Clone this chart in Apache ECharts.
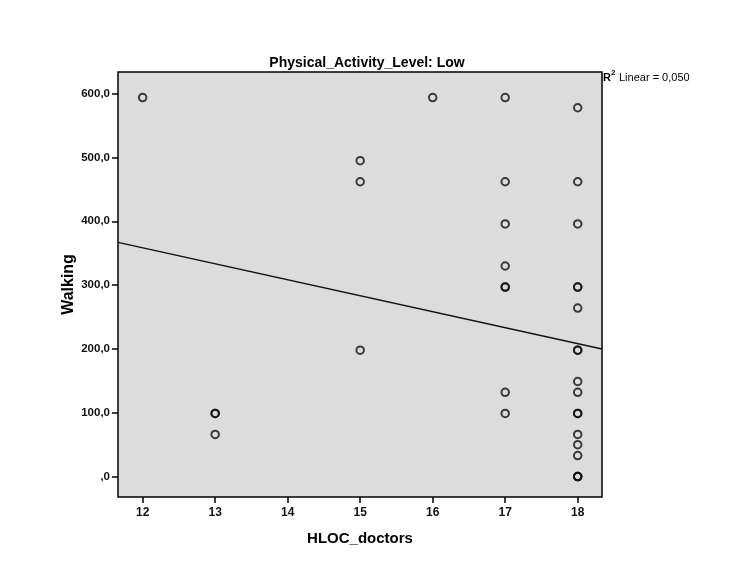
<!DOCTYPE html>
<html>
<head>
<meta charset="utf-8">
<script src="https://cdn.jsdelivr.net/npm/echarts@6/dist/echarts.min.js"></script>
<style>html,body{margin:0;padding:0;background:#fff;}#c{width:750px;height:566px;}</style>
</head>
<body>
<div id="c"></div>
<script>
// Data
var hlocDoctors = [12, 13, 13, 13, 15, 15, 15, 16,
  17, 17, 17, 17, 17, 17, 17, 17,
  18, 18, 18, 18, 18, 18, 18, 18, 18, 18, 18, 18, 18, 18, 18, 18, 18, 18];
var walking = [594, 99, 99, 66, 495, 462, 198, 594,
  594, 462, 396, 330, 297, 297, 132, 99,
  578, 462, 396, 297, 297, 264, 198, 198, 149, 132, 99, 99, 66, 50, 33, 0, 0, 0];
var fitX = [11.66, 18.335];
var fitY = [367, 200];
var xTicks = [12, 13, 14, 15, 16, 17, 18];
var yTicks = [0, 100, 200, 300, 400, 500, 600];
var titleText = 'Physical_Activity_Level: Low';
var xName = 'HLOC_doctors';
var yName = 'Walking';

var points = hlocDoctors.map(function (x, i) { return [x, walking[i]]; });
var fitLine = fitX.map(function (x, i) { return [x, fitY[i]]; });

var FONT = '"Liberation Sans", Arial, sans-serif';
var chart = echarts.init(document.getElementById('c'), null, {renderer: 'canvas'});
chart.setOption({
  backgroundColor: '#ffffff',
  animation: false,
  title: {
    text: titleText,
    left: 362, top: 51, textAlign: 'center',
    textStyle: {fontFamily: FONT, fontSize: 14, fontWeight: 'bold', color: '#000'}
  },
  grid: {
    left: 118, right: 148, top: 72, bottom: 69,
    show: true, backgroundColor: '#dcdcdc', borderColor: '#000', borderWidth: 1.5
  },
  xAxis: {
    type: 'value', min: 11.66, max: 18.335,
    name: xName, nameLocation: 'middle', nameGap: 34,
    nameTextStyle: {fontFamily: FONT, fontSize: 15, fontWeight: 'bold', color: '#000'},
    axisLine: {show: false, onZero: false},
    splitLine: {show: false},
    axisTick: {show: true, inside: false, length: 6, customValues: xTicks, lineStyle: {color: '#000', width: 1.5}},
    axisLabel: {customValues: xTicks, margin: 10, fontFamily: FONT, fontSize: 12, fontWeight: 'bold', color: '#111'}
  },
  yAxis: {
    type: 'value', min: -32, max: 634,
    name: yName, nameLocation: 'middle', nameGap: 41, nameRotate: 90, nameMoveOverlap: false,
    nameTextStyle: {fontFamily: FONT, fontSize: 16, fontWeight: 'bold', color: '#000'},
    axisLine: {show: false, onZero: false},
    splitLine: {show: false},
    axisTick: {show: true, inside: false, length: 6, customValues: yTicks, lineStyle: {color: '#000', width: 1.5}},
    axisLabel: {
      customValues: yTicks, margin: 8, fontFamily: FONT, fontSize: 11.5, fontWeight: 'bold', color: '#111',
      formatter: function (v) { return v === 0 ? ',0' : v.toFixed(1).replace('.', ','); }
    }
  },
  series: [
    {
      type: 'line', data: fitLine, symbol: 'none', silent: true,
      lineStyle: {color: '#111', width: 1.5}, z: 2
    },
    {
      type: 'scatter', data: points, symbol: 'circle', symbolSize: 7.5,
      itemStyle: {color: 'rgba(0,0,0,0)', borderColor: '#111', borderWidth: 2}, z: 3
    }
  ],
  graphic: [
    {type: 'text', left: 603, top: 72, style: {text: 'R', fontFamily: FONT, fontSize: 11, fontWeight: 'bold', fill: '#000'}},
    {type: 'text', left: 611, top: 69, style: {text: '2', fontFamily: FONT, fontSize: 8, fontWeight: 'bold', fill: '#000'}},
    {type: 'text', left: 619, top: 72, style: {text: 'Linear = 0,050', fontFamily: FONT, fontSize: 11, fill: '#000'}}
  ]
});
</script>
</body>
</html>
